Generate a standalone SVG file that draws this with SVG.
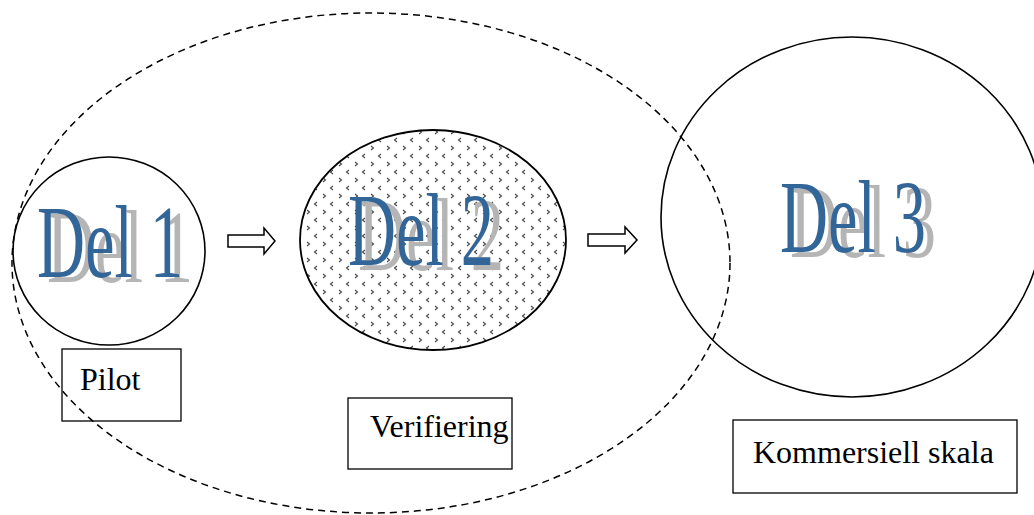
<svg xmlns="http://www.w3.org/2000/svg" width="1034" height="515" viewBox="0 0 1034 515">
<style>
.ln{fill:none;stroke:#000;stroke-width:1.6}
.box{fill:#fff;stroke:#000;stroke-width:1.3}
.lbl{font-family:"Liberation Serif",serif;font-size:32px;fill:#000}
.wa{font-family:"Liberation Serif",serif;font-size:104px;fill:#336699;filter:url(#shadow)}
.arr{fill:#fff;stroke:#000;stroke-width:1.5}
</style>
<defs>
<pattern id="dots" width="16" height="16" patternUnits="userSpaceOnUse">
<path d="M3 2 l2.5 2 l-2.5 2 M13 10 l-2.5 2 l2.5 2" fill="none" stroke="#444" stroke-width="1.1"/>
</pattern>
<filter id="shadow" x="-10%" y="-10%" width="130%" height="130%">
<feOffset in="SourceAlpha" dx="10" dy="5" result="off"/>
<feFlood flood-color="#b5b5b5"/>
<feComposite in2="off" operator="in" result="sh"/>
<feMerge><feMergeNode in="sh"/><feMergeNode in="SourceGraphic"/></feMerge>
</filter>
</defs>
<g id="del2">
<ellipse cx="433" cy="240" rx="133" ry="110" fill="url(#dots)" stroke="#000" stroke-width="1.8"/>
<text class="wa" x="348" y="265" textLength="146" lengthAdjust="spacingAndGlyphs">Del 2</text>
</g>
<g id="del1">
<ellipse class="ln" cx="109" cy="251" rx="96" ry="94"/>
<text class="wa" x="37" y="277" textLength="146" lengthAdjust="spacingAndGlyphs">Del 1</text>
</g>
<g id="del3">
<ellipse class="ln" cx="852" cy="217" rx="191" ry="180"/>
<text class="wa" x="780" y="252" textLength="146" lengthAdjust="spacingAndGlyphs">Del 3</text>
</g>
<g id="pilot">
<rect class="box" x="62" y="349" width="119" height="72"/>
<text class="lbl" x="80" y="390">Pilot</text>
</g>
<g id="verifiering">
<rect class="box" x="348" y="398" width="164" height="71"/>
<text class="lbl" x="370" y="437">Verifiering</text>
</g>
<g id="kommersiell">
<rect class="box" x="733" y="420" width="284" height="73"/>
<text class="lbl" x="753" y="463">Kommersiell skala</text>
</g>
<g id="connectors">
<ellipse cx="371" cy="263" rx="359" ry="250" fill="none" stroke="#000" stroke-width="1.5" stroke-dasharray="7,5"/>
<path class="arr" d="M228 235 H264 V228 L275 241 L264 254 V247 H228 Z"/>
<path class="arr" d="M588 234 H625 V227 L637 240 L625 253 V246 H588 Z"/>
</g>
</svg>
